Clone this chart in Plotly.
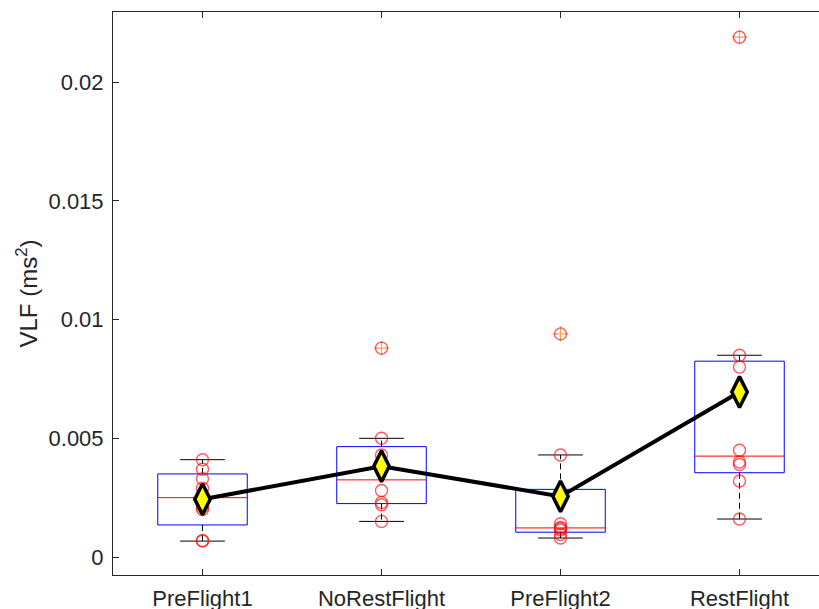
import numpy as np
import plotly.graph_objects as go

categories = ["PreFlight1", "NoRestFlight", "PreFlight2", "RestFlight"]

preflight1 = [0.0041, 0.0037, 0.0033, 0.0029, 0.0021, 0.0020, 0.0007, 0.00067]
norestflight = [0.0088, 0.0050, 0.0043, 0.0037, 0.0028, 0.0023, 0.0022, 0.0015]
preflight2 = [0.0094, 0.0043, 0.0014, 0.00125, 0.0012, 0.00114, 0.00095, 0.0008]
restflight = [0.0219, 0.0085, 0.0080, 0.0045, 0.0040, 0.0039, 0.0032, 0.0016]

groups = [preflight1, norestflight, preflight2, restflight]

y_tickvals = [0, 0.005, 0.01, 0.015, 0.02]
y_ticktext = ["0", "0.005", "0.01", "0.015", "0.02"]


def matlab_prctile(vals, p):
    s = np.sort(np.asarray(vals, dtype=float))
    n = len(s)
    pos = p / 100.0 * n + 0.5  # 1-based
    if pos <= 1:
        return s[0]
    if pos >= n:
        return s[-1]
    lo = int(np.floor(pos))
    frac = pos - lo
    return s[lo - 1] + frac * (s[lo] - s[lo - 1])


fig = go.Figure()

box_x, box_y = [], []
med_x, med_y = [], []
wh_x, wh_y = [], []
cap_x, cap_y = [], []
pts_x, pts_y = [], []
out_x, out_y = [], []
means = []

bw = 0.25
cw = 0.125
for i, g in enumerate(groups):
    xc = i + 1
    q1 = matlab_prctile(g, 25)
    med = matlab_prctile(g, 50)
    q3 = matlab_prctile(g, 75)
    iqr = q3 - q1
    lf, uf = q1 - 1.5 * iqr, q3 + 1.5 * iqr
    inl = [v for v in g if lf <= v <= uf]
    outl = [v for v in g if v < lf or v > uf]
    lo, hi = min(inl), max(inl)
    means.append(float(np.mean(g)))
    box_x += [xc - bw, xc + bw, xc + bw, xc - bw, xc - bw, None]
    box_y += [q1, q1, q3, q3, q1, None]
    med_x += [xc - bw, xc + bw, None]
    med_y += [med, med, None]
    wh_x += [xc, xc, None, xc, xc, None]
    wh_y += [q3, hi, None, q1, lo, None]
    cap_x += [xc - cw, xc + cw, None, xc - cw, xc + cw, None]
    cap_y += [hi, hi, None, lo, lo, None]
    pts_x += [xc] * len(g)
    pts_y += list(g)
    out_x += [xc] * len(outl)
    out_y += outl

fig.add_trace(go.Scatter(x=wh_x, y=wh_y, mode="lines",
                         line=dict(color="black", width=1, dash="6px,4px"),
                         hoverinfo="skip"))
fig.add_trace(go.Scatter(x=cap_x, y=cap_y, mode="lines",
                         line=dict(color="black", width=1), hoverinfo="skip"))
fig.add_trace(go.Scatter(x=box_x, y=box_y, mode="lines",
                         line=dict(color="rgb(0,0,255)", width=1), hoverinfo="skip"))
fig.add_trace(go.Scatter(x=med_x, y=med_y, mode="lines",
                         line=dict(color="rgb(255,0,0)", width=1), hoverinfo="skip"))
fig.add_trace(go.Scatter(x=out_x, y=out_y, mode="markers",
                         marker=dict(symbol="cross-thin-open", size=11,
                                     line=dict(color="rgb(255,0,0)", width=1.2))))
fig.add_trace(go.Scatter(x=pts_x, y=pts_y, mode="markers",
                         marker=dict(symbol="circle-open", size=12,
                                     color="rgba(255,0,0,0.65)",
                                     line=dict(color="rgba(255,0,0,0.65)", width=1.4))))
fig.add_trace(go.Scatter(x=[1, 2, 3, 4], y=means, mode="lines+markers",
                         line=dict(color="black", width=4),
                         marker=dict(symbol="diamond-tall", size=22, color="rgb(255,255,0)",
                                     line=dict(color="black", width=3.5))))

font_family = "Liberation Sans, Arial, Helvetica, sans-serif"
axis_color = "rgb(38,38,38)"
fs = 22

fig.update_layout(
    width=819, height=609,
    margin=dict(l=113, r=0, t=12, b=34),
    paper_bgcolor="white", plot_bgcolor="white",
    showlegend=False,
    font=dict(family=font_family, size=fs, color=axis_color),
)
fig.update_xaxes(
    range=[0.5, 0.5 + (819 - 113) / 179.0],
    tickvals=[1, 2, 3, 4], ticktext=categories,
    showgrid=False, zeroline=False, automargin=False,
    showline=True, linecolor=axis_color, linewidth=1, mirror="ticks",
    ticks="inside", ticklen=6, tickcolor=axis_color, ticklabelstandoff=4,
    tickfont=dict(size=fs, color=axis_color),
)
fig.update_yaxes(
    range=[-0.000758, 0.02296],
    tickvals=y_tickvals, ticktext=y_ticktext,
    showgrid=False, zeroline=False, automargin=False,
    showline=True, linecolor=axis_color, linewidth=1,
    ticks="inside", ticklen=6, tickcolor=axis_color, ticklabelstandoff=4,
    tickfont=dict(size=fs, color=axis_color),
    title=dict(text="VLF (ms<sup>2</sup>)", font=dict(size=24, color=axis_color), standoff=4),
)

fig.write_html("out.html", config={"displayModeBar": False},
               post_script="document.body.style.margin='0';")
